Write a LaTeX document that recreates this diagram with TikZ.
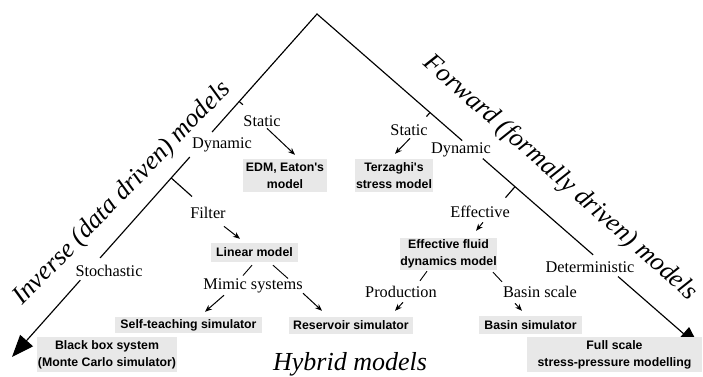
\documentclass[tikz,border=0pt]{standalone}
\usepackage{fontspec}
\setmainfont{Liberation Serif}
\newfontfamily\boxfont{Liberation Sans}
\usetikzlibrary{arrows.meta,calc}
\begin{document}
\begin{tikzpicture}[x=1pt,y=-1pt,
  lbl/.style={font=\fontsize{16.3}{18}\selectfont, inner sep=0pt, anchor=base},
  bx/.style={fill=black!9, font=\boxfont\bfseries\fontsize{12.3}{17}\selectfont, align=center, inner sep=0pt},
  big/.style={font=\itshape\fontsize{26}{30}\selectfont, inner sep=0pt, anchor=base},
  axis/.style={line width=1.15pt},
  arr/.style={line width=1pt, -{Stealth[length=7pt,width=5.5pt]}},
  conn/.style={line width=0.9pt}]
\useasboundingbox (0,0) rectangle (703,376);

% main axes
\coordinate (apex) at (317,14);
\coordinate (ltip) at (12,357);
\coordinate (rtip) at (700,348);
\draw[axis, line join=miter] ($(apex)!0.344!(ltip)$) -- (apex) -- ($(apex)!0.379!(rtip)$);
\draw[axis] ($(apex)!0.417!(ltip)$) -- ($(apex)!0.711!(ltip)$);
\draw[axis, -{Triangle[length=22pt,width=17pt]}] ($(apex)!0.776!(ltip)$) -- (ltip);
\draw[axis] ($(apex)!0.433!(rtip)$) -- ($(apex)!0.721!(rtip)$);
\draw[axis, -{Triangle[length=22pt,width=17pt]}] ($(apex)!0.786!(rtip)$) -- (rtip);

% ticks
\coordinate (lt1) at ($(apex)!0.255!(ltip)$);
\coordinate (lt2) at ($(apex)!0.478!(ltip)$);
\coordinate (rt1) at ($(apex)!0.295!(rtip)$);
\coordinate (rt2) at ($(apex)!0.517!(rtip)$);
\draw[axis] (lt1) -- ++(3.7,3.3);
\draw[axis] (rt1) -- ++(-3.5,4);

% labels
\node[lbl] (lstatic) at (262,126) {Static};
\node[lbl] (ldyn) at (222,148) {Dynamic};
\node[lbl] (filter) at (208,218) {Filter};
\node[lbl] (stoch) at (109,276) {Stochastic};
\node[lbl] (mimic) at (253,289) {Mimic systems};
\node[lbl] (rstatic) at (409,135) {Static};
\node[lbl] (rdyn) at (461,153) {Dynamic};
\node[lbl] (effective) at (480,217) {Effective};
\node[lbl] (determ) at (590,272) {Deterministic};
\node[lbl] (prod) at (401,297) {Production};
\node[lbl] (basin) at (540,297) {Basin scale};

% boxes
\node[bx, minimum width=84pt, minimum height=33pt] (edm) at (285,175.5) {EDM, Eaton's\\model};
\node[bx, minimum width=78pt, minimum height=33pt] (terz) at (394,175.5) {Terzaghi's\\stress model};
\node[bx, minimum width=87pt, minimum height=19pt] (linear) at (254.5,252.5) {Linear model};
\node[bx, minimum width=73pt, minimum height=32pt] (eff) at (448.5,254) {Effective fluid\\dynamics model};
\node[bx, minimum width=147pt, minimum height=16pt] (self) at (188.5,325) {Self-teaching simulator};
\node[bx, minimum width=124pt, minimum height=17pt] (res) at (351,325.5) {Reservoir simulator};
\node[bx, minimum width=103pt, minimum height=18pt] (basinsim) at (530.5,325) {Basin simulator};
\node[bx, minimum width=140pt, minimum height=35pt] (black) at (107,354.5) {Black box system\\(Monte Carlo simulator)};
\node[bx, minimum width=175pt, minimum height=35pt] (full) at (614.5,354.5) {Full scale\\stress-pressure modelling};

% branches
\draw[axis] (lt2) -- ($(filter.north)+(-16,-10)$);
\draw[axis] (rt2) -- ($(effective.north)+(25.5,-7.7)$);

% arrows
\draw[arr] ($(lstatic.south)+(5,2)$) -- ($(edm.north)+(10,-4)$);
\draw[arr] ($(filter.south)+(16,8)$) -- ($(linear.north)+(-14.5,-4)$);
\draw[arr] ($(mimic.south)+(-29,2.5)$) -- ($(self.north)+(16.5,-5)$);
\draw[arr] ($(mimic.south)+(50,0.5)$) -- ($(res.north)+(-29,-6)$);
\draw[arr] ($(rstatic.south)+(1,3)$) -- ($(terz.north)+(1,-5)$);
\draw[arr] ($(effective.south)+(3,5)$) -- ($(eff.north)+(27.5,-7)$);
\draw[arr] ($(prod.south)+(2,5)$) -- ($(res.north)+(44,-6)$);
\draw[arr] ($(basin.south)+(-25,6)$) -- ($(basinsim.north)+(-8.5,-5)$);

% plain connectors
\draw[conn] ($(linear.south)+(-2.5,3)$) -- ($(mimic.north)+(-10,-2.5)$);
\draw[conn] ($(linear.south)+(18.5,3)$) -- ($(mimic.north)+(35,0.5)$);
\draw[conn] ($(eff.south)+(-21.5,1)$) -- ($(prod.north)+(19,-4.7)$);
\draw[conn] ($(eff.south)+(44.5,2)$) -- ($(basin.north)+(-38,-3.7)$);

% big labels
\node[big, rotate=46] (inv) at (127,198) {Inverse (data driven) models};
\node[big, rotate=-41.5] (fwd) at (556,183) {Forward (formally driven) models};
\node[big] (hyb) at (350,370) {Hybrid models};
\end{tikzpicture}
\end{document}
